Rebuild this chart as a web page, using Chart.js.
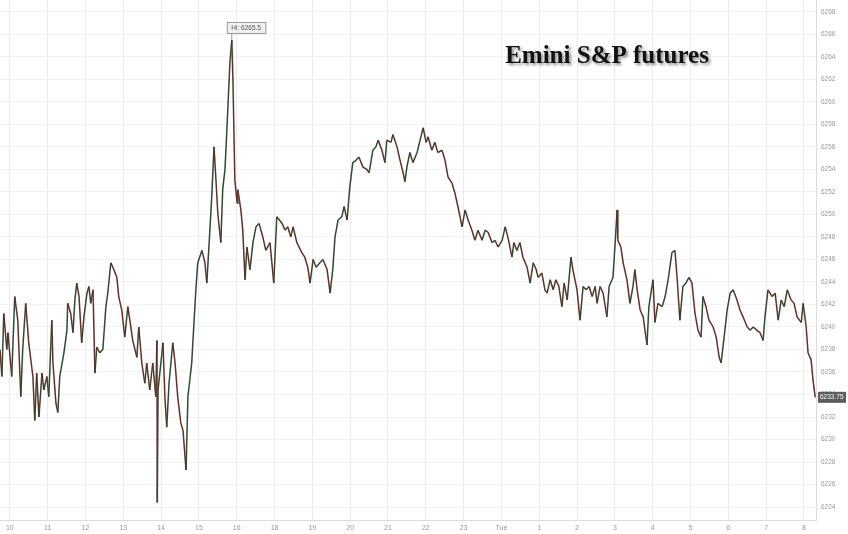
<!DOCTYPE html>
<html>
<head>
<meta charset="utf-8">
<script src="https://cdn.jsdelivr.net/npm/chart.js@4.4.0/dist/chart.umd.min.js"></script>
<style>
html, body { margin: 0; padding: 0; background: #fff; }
#wrap { width: 848px; height: 534px; position: relative; }
</style>
</head>
<body>
<div id="wrap"><canvas id="chart"></canvas></div>
<script>
// x tick labels, one per hour (17 is missing on the original)
var xLabels = ['10','11','12','13','14','15','16','18','19','20','21','22','23','Tue','1','2','3','4','5','6','7','8'];

// time in hours from the "10" tick
var hours = [
  -0.26,-0.21,-0.16,-0.08,-0.05,0.05,0.13,0.21,0.29,0.34,
  0.42,0.50,0.61,0.66,0.71,0.77,0.85,0.90,0.98,1.03,
  1.11,1.14,1.22,1.27,1.32,1.43,1.51,1.53,1.61,1.67,
  1.72,1.77,1.83,1.90,1.96,2.04,2.09,2.14,2.20,2.25,
  2.30,2.38,2.46,2.54,2.59,2.67,2.75,2.83,2.88,2.96,
  3.04,3.12,3.20,3.25,3.36,3.41,3.49,3.57,3.62,3.70,
  3.78,3.86,3.89,3.90,3.92,4.05,4.10,4.15,4.21,4.31,
  4.37,4.44,4.52,4.58,4.66,4.71,4.81,4.87,4.92,4.97,
  5.08,5.16,5.21,5.29,5.34,5.40,5.45,5.50,5.58,5.63,
  5.69,5.74,5.82,5.87,5.90,5.95,6.01,6.03,6.11,6.16,
  6.22,6.27,6.35,6.43,6.51,6.59,6.69,6.77,6.88,6.98,
  7.06,7.20,7.28,7.35,7.43,7.49,7.59,7.72,7.80,7.88,
  7.94,8.02,8.10,8.20,8.28,8.39,8.47,8.54,8.60,8.68,
  8.78,8.84,8.92,8.99,9.07,9.15,9.23,9.34,9.44,9.50,
  9.60,9.68,9.74,9.84,9.92,9.97,10.08,10.13,10.24,10.32,
  10.40,10.45,10.50,10.58,10.66,10.77,10.85,10.93,11.01,11.06,
  11.16,11.24,11.32,11.43,11.51,11.59,11.69,11.77,11.85,11.96,
  12.04,12.12,12.22,12.30,12.38,12.49,12.57,12.65,12.75,12.83,
  12.91,13.02,13.10,13.17,13.28,13.33,13.41,13.49,13.57,13.68,
  13.76,13.84,13.92,13.97,14.07,14.15,14.21,14.29,14.37,14.44,
  14.52,14.60,14.66,14.74,14.84,14.89,15.00,15.08,15.16,15.24,
  15.32,15.40,15.48,15.53,15.61,15.69,15.79,15.85,15.95,16.01,
  16.06,16.08,16.16,16.22,16.32,16.40,16.48,16.53,16.59,16.67,
  16.75,16.85,16.90,17.01,17.06,17.14,17.25,17.33,17.41,17.51,
  17.59,17.65,17.72,17.80,17.88,17.96,18.04,18.12,18.20,18.28,
  18.33,18.41,18.49,18.60,18.68,18.76,18.81,18.89,18.97,19.05,
  19.13,19.23,19.31,19.39,19.50,19.58,19.66,19.76,19.84,19.92,
  19.97,20.05,20.16,20.24,20.32,20.40,20.48,20.56,20.66,20.74,
  20.82,20.93,20.98,21.06,21.11,21.19,21.24,21.30
];

// futures price at each time
var prices = [
  6238.0,6235.6,6241.2,6238.0,6239.5,6235.6,6242.7,6240.6,6233.8,6238.0,
  6242.1,6238.6,6235.6,6231.7,6235.9,6232.0,6235.9,6234.4,6235.6,6233.8,
  6240.6,6236.8,6233.2,6232.4,6235.6,6237.7,6239.7,6242.1,6241.2,6239.5,
  6242.4,6243.9,6242.7,6238.6,6240.9,6243.0,6243.6,6242.1,6243.3,6235.9,
  6238.2,6237.7,6238.0,6241.8,6243.0,6245.7,6245.1,6244.4,6242.7,6241.5,
  6239.1,6241.8,6240.0,6238.8,6237.3,6240.0,6236.8,6235.0,6236.8,6234.4,
  6236.8,6233.8,6238.8,6224.4,6234.4,6238.6,6233.8,6231.1,6235.0,6238.6,
  6236.8,6233.8,6231.5,6230.8,6227.3,6233.8,6236.8,6240.4,6243.3,6245.7,
  6246.8,6245.7,6243.9,6248.6,6251.6,6256.0,6253.1,6250.1,6247.5,6252.2,
  6254.0,6257.5,6263.5,6265.5,6262.0,6253.1,6251.0,6252.2,6250.4,6248.6,
  6244.2,6247.1,6245.1,6247.5,6248.9,6249.2,6248.0,6246.8,6247.5,6243.9,
  6249.8,6249.2,6248.6,6248.9,6248.0,6248.9,6247.5,6246.6,6246.2,6245.3,
  6243.9,6246.0,6245.3,6245.7,6246.0,6245.1,6243.0,6245.1,6248.0,6249.5,
  6249.8,6250.7,6249.5,6252.4,6254.6,6254.8,6255.1,6254.2,6254.0,6253.7,
  6255.7,6256.0,6256.6,6255.7,6254.6,6256.6,6256.4,6257.1,6256.0,6254.8,
  6253.7,6252.9,6254.2,6255.5,6254.6,6255.5,6256.6,6257.7,6256.4,6256.9,
  6255.7,6256.4,6255.5,6255.7,6254.8,6253.3,6252.8,6251.9,6250.7,6248.9,
  6250.4,6249.5,6248.6,6247.7,6248.6,6247.7,6248.6,6248.4,6247.5,6247.7,
  6247.1,6247.7,6248.9,6248.0,6246.2,6247.5,6246.8,6247.5,6246.2,6245.3,
  6243.9,6245.7,6245.1,6244.4,6244.8,6243.3,6243.0,6244.2,6243.3,6244.2,
  6243.6,6241.8,6243.9,6242.4,6246.2,6245.1,6243.3,6240.6,6243.6,6243.3,
  6243.6,6242.7,6243.6,6242.1,6243.6,6243.0,6240.9,6243.6,6244.4,6247.5,
  6250.4,6247.7,6247.1,6245.7,6244.2,6242.1,6243.6,6245.1,6243.3,6241.5,
  6240.9,6238.4,6241.8,6244.2,6240.4,6242.1,6241.8,6242.7,6244.2,6246.6,
  6246.8,6244.2,6240.6,6243.6,6243.9,6244.4,6243.9,6241.2,6239.7,6239.1,
  6242.7,6241.8,6240.6,6240.0,6239.1,6237.3,6236.8,6239.1,6241.5,6243.0,
  6243.3,6242.4,6241.5,6240.9,6240.0,6239.7,6240.0,6239.7,6239.5,6238.8,
  6240.9,6243.3,6242.7,6243.0,6240.6,6242.4,6241.8,6243.3,6242.4,6242.1,
  6240.9,6240.4,6242.1,6240.0,6237.7,6237.1,6235.3,6233.75
];

var priceMin = 6222.85;
var priceMax = 6269.05;
var priceStep = 2;
var hourMin = -0.26;
var hourMax = 21.32;
var chartTitle = 'Emini S&P futures';

var upColor = '#2f4934';
var downColor = '#633026';

// index of the session high and the last print, for the two labels
var hiIndex = prices.indexOf(Math.max.apply(null, prices));
var lastIndex = prices.length - 1;

var labelsPlugin = {
  id: 'labels',
  afterDatasetsDraw: function(chart) {
    var ctx = chart.ctx;
    var xs = chart.scales.x, ys = chart.scales.y;
    ctx.save();

    // title
    ctx.font = 'bold 25px "Liberation Serif", "DejaVu Serif", serif';
    ctx.fillStyle = '#111';
    ctx.textAlign = 'left';
    ctx.textBaseline = 'middle';
    ctx.shadowColor = 'rgba(0,0,0,0.45)';
    ctx.shadowBlur = 3;
    ctx.shadowOffsetX = 2;
    ctx.shadowOffsetY = 2;
    ctx.fillText(chartTitle, xs.getPixelForValue(13.1), ys.getPixelForValue(6264.0));
    ctx.shadowColor = 'transparent';

    // "Hi" label over the peak
    var hx = xs.getPixelForValue(hours[hiIndex]);
    var hy = ys.getPixelForValue(prices[hiIndex]);
    var hiText = 'Hi: ' + prices[hiIndex].toFixed(1);
    ctx.font = '6.5px "Liberation Sans", Arial, sans-serif';
    var w = ctx.measureText(hiText).width + 9;
    ctx.strokeStyle = '#999';
    ctx.lineWidth = 1;
    ctx.beginPath();
    ctx.moveTo(hx, hy);
    ctx.lineTo(hx, hy - 6);
    ctx.stroke();
    ctx.fillStyle = '#f1f1f1';
    ctx.fillRect(hx - 4.5, hy - 17.5, w, 11);
    ctx.strokeRect(hx - 4.5, hy - 17.5, w, 11);
    ctx.fillStyle = '#555';
    ctx.fillText(hiText, hx - 0.5, hy - 12);
    ctx.restore();
  },
  afterDraw: function(chart) {
    var ctx = chart.ctx;
    var ys = chart.scales.y;
    var ly = ys.getPixelForValue(prices[lastIndex]);
    var left = chart.chartArea.right + 2;
    ctx.save();
    ctx.fillStyle = '#5c5c5c';
    ctx.fillRect(left, ly - 5.5, 28, 11);
    ctx.font = '6.5px "Liberation Sans", Arial, sans-serif';
    ctx.fillStyle = '#fff';
    ctx.textAlign = 'left';
    ctx.textBaseline = 'middle';
    ctx.fillText(prices[lastIndex].toFixed(2), left + 2, ly);
    ctx.restore();
  }
};

new Chart(document.getElementById('chart').getContext('2d'), {
  type: 'line',
  data: {
    datasets: [{
      data: hours.map(function(h, i) { return { x: h, y: prices[i] }; }),
      borderColor: '#3d2b24',
      borderWidth: 1.5,
      pointRadius: 0,
      tension: 0,
      segment: {
        borderColor: function(c) {
          return c.p1.parsed.y >= c.p0.parsed.y ? upColor : downColor;
        }
      }
    }]
  },
  options: {
    responsive: true,
    maintainAspectRatio: false,
    animation: false,
    layout: { padding: 0 },
    plugins: {
      legend: { display: false },
      tooltip: { enabled: false }
    },
    scales: {
      x: {
        type: 'linear',
        min: hourMin,
        max: hourMax,
        afterFit: function(s) { s.height = 14; s.paddingLeft = 0; s.paddingRight = 0; },
        grid: { color: '#ececec', drawTicks: false },
        border: { color: '#dcdcdc' },
        ticks: {
          stepSize: 1,
          includeBounds: false,
          autoSkip: false,
          maxRotation: 0,
          padding: 4,
          color: '#999',
          font: { family: '"Liberation Sans", Arial, sans-serif', size: 7 },
          callback: function(v) {
            return Number.isInteger(v) && xLabels[v] !== undefined ? xLabels[v] : '';
          }
        }
      },
      y: {
        position: 'right',
        min: priceMin,
        max: priceMax,
        afterFit: function(s) { s.width = 32; s.paddingTop = 0; s.paddingBottom = 0; },
        grid: { color: '#f1f1f1', drawTicks: false },
        border: { color: '#dcdcdc' },
        ticks: {
          stepSize: priceStep,
          includeBounds: false,
          padding: 5,
          color: '#999',
          font: { family: '"Liberation Sans", Arial, sans-serif', size: 6.5 },
          callback: function(v) { return v; }
        }
      }
    }
  },
  plugins: [labelsPlugin]
});
</script>
</body>
</html>
